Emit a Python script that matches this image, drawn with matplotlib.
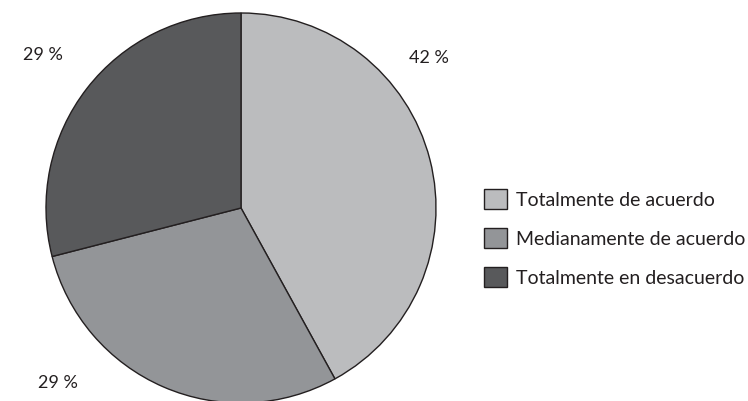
import matplotlib.pyplot as plt

plt.rcParams['font.family'] = ['Lato', 'DejaVu Sans']

categories = ["Totalmente de acuerdo", "Medianamente de acuerdo", "Totalmente en desacuerdo"]
values = [42, 29, 29]
labels = ["42 %", "29 %", "29 %"]
colors = ['#bbbcbe', '#939598', '#58595b']

fig = plt.figure(figsize=(7.48, 4.01), dpi=100)
ax = fig.add_axes([0, 0, 1, 1])
ax.set_xlim(0, 748)
ax.set_ylim(0, 401)
ax.set_aspect('equal')
ax.axis('off')

wedges, _ = ax.pie(values, colors=colors, startangle=90, counterclock=False,
                   center=(241, 193), radius=195,
                   wedgeprops=dict(edgecolor='#231f20', linewidth=1.0))
ax.set_xlim(0, 748)
ax.set_ylim(0, 401)

# label positions (pixels, y up)
label_pos = [(429, 343), (43, 346), (58, 18)]
for (x, y), t in zip(label_pos, labels):
    ax.text(x, y, t, ha='center', va='center', fontsize=13, color='#231f20')

leg = ax.legend(wedges, categories, loc='upper left', bbox_to_anchor=(484 / 748, 1 - 189 / 401),
                frameon=False, fontsize=14, handlelength=1.2, handleheight=1.2,
                labelspacing=0.98, handletextpad=0.45, borderaxespad=0, borderpad=0)
for h in leg.legend_handles:
    h.set_edgecolor('#231f20')
    h.set_linewidth(1.0)
for t in leg.get_texts():
    t.set_color('#231f20')

fig.savefig('out.png', dpi=100)
